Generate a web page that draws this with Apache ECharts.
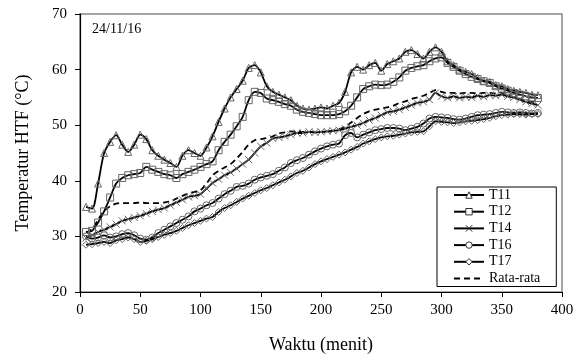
<!DOCTYPE html>
<html>
<head>
<meta charset="utf-8">
<script src="https://cdn.jsdelivr.net/npm/echarts@6/dist/echarts.min.js"></script>
<style>
  html, body { margin: 0; padding: 0; background: #fff; }
  #chart { width: 588px; height: 362px; }
</style>
</head>
<body>
<div id="chart"></div>
<script>
// waktu (menit), tiap 5 menit
var waktu = [];
for (var t = 5; t <= 380; t += 5) waktu.push(t);

var t11 = [35.3, 35.0, 39.5, 45, 47, 48.2, 46.5, 45.2, 46.5, 48.3, 47.5, 45.5, 44.5, 43.8, 43.2, 42.5, 44.5, 45.5, 45, 44.5,
  46, 48, 50.6, 53, 55, 56.5, 58, 60.3, 60.8, 59.5, 57, 56, 55.5, 55, 54.5, 53.5, 53, 52.8, 53, 53.2,
  53, 53.5, 54, 56, 59.5, 60.5, 60, 60.8, 61.2, 59.8, 61, 61.5, 62, 63.2, 63.5, 62.8, 62, 63.2, 64, 63.2,
  61.5, 60.8, 60, 59.6, 59.2, 58.5, 58, 57.8, 57.2, 57, 56.5, 56.2, 56, 55.8, 55.5, 55.4];
var t12 = [30.8, 31, 32.5, 34.5, 37, 39.5, 40.5, 41, 41.2, 41.4, 42.5, 42, 41.6, 41.2, 41, 40.5, 41.2, 41.6, 42, 42.5,
  43, 43.5, 45.5, 47, 48.3, 49.8, 51.5, 54.5, 56, 55.8, 54.8, 54.5, 54.2, 53.8, 53.5, 52.8, 52.4, 52.2, 52, 51.8,
  51.8, 51.8, 52, 52.5, 53.5, 55, 56.5, 57, 57.3, 57.2, 57.3, 57.8, 58.6, 59.8, 60.3, 60.6, 60.8, 61.5, 62, 62.2,
  61.2, 60.5, 59.8, 59.2, 58.7, 58.3, 57.9, 57.6, 57, 56.6, 56.2, 55.8, 55.5, 55.2, 55, 54.9];
var t14 = [29.7, 30.2, 30.8, 31.2, 31.7, 32.2, 32.8, 33.1, 33.4, 33.7, 34.1, 34.5, 34.8, 35.1, 35.6, 36.1, 36.6, 37.1, 37.3, 37.6,
  38.6, 39.6, 40.3, 41, 41.5, 42.2, 43, 43.8, 45, 46.2, 46.8, 47.6, 47.8, 48, 48.3, 48.6, 48.6, 48.8, 48.7, 48.8,
  48.9, 49, 49.1, 49.4, 49.7, 50, 50.4, 50.9, 51.3, 51.8, 52.3, 52.5, 52.8, 53.2, 53.6, 54, 54.2, 54.6, 55.8, 55.2,
  54.9, 55.2, 54.9, 55.1, 55, 55.3, 55.1, 55.4, 55.3, 55.5, 55.2, 55, 54.6, 54.2, 53.9, 53.6];
var t16 = [30, 29.6, 29.8, 30.2, 29.8, 30, 30.4, 30.6, 30.2, 29.6, 29.4, 29.8, 30.6, 31.2, 31.8, 32.4, 33, 33.6, 34.5, 35,
  35.6, 36, 36.8, 37.6, 38.2, 38.9, 39.1, 39.5, 40.2, 40.6, 40.9, 41.2, 41.8, 42.4, 43.2, 43.7, 44.1, 44.7, 45.3, 45.8,
  46.2, 46.5, 46.7, 48.2, 48.6, 47.8, 48.3, 48.7, 49.1, 49.3, 49.5, 49.5, 49.4, 49.1, 49.4, 49.7, 50.3, 51.2, 51.5, 51.4,
  51.3, 51.1, 51, 51.2, 51.5, 51.8, 51.9, 52, 52.2, 52.4, 52.3, 52.2, 52.3, 52.2, 52.1, 52.2];
var t17 = [28.5, 28.6, 28.8, 29, 28.8, 29.3, 29.5, 29.8, 29.5, 29, 29.2, 29.5, 29.9, 30.3, 30.6, 31, 31.5, 32, 32.4, 32.8,
  33.2, 33.5, 34.4, 35.1, 35.6, 36.2, 36.8, 37.3, 37.8, 38.3, 38.7, 39.2, 39.7, 40.2, 40.8, 41.4, 41.8, 42.4, 43, 43.5,
  43.9, 44.3, 44.7, 45.1, 45.6, 46.1, 46.7, 47.1, 47.5, 47.8, 48, 48.1, 48.3, 48.5, 48.7, 48.8, 48.9, 49.8, 50.7, 50.6,
  50.5, 50.4, 50.5, 50.7, 50.8, 50.9, 51.1, 51.3, 51.6, 51.8, 51.9, 52, 52, 51.9, 52, 52];
var rataRata = [30.7, 31.3, 33, 34.6, 35.4, 35.9, 36, 36, 36, 36.1, 36, 36, 36, 36.1, 36.3, 36.8, 37.3, 37.7, 38, 38.3,
  39.5, 41, 41.8, 42.4, 43, 44, 45.2, 46.5, 47.3, 47.5, 47.7, 48, 48.5, 48.7, 48.9, 48.8, 48.8, 48.8, 48.7, 48.8,
  48.8, 49, 49.3, 49.7, 50.5, 51.3, 52, 52.5, 52.8, 53, 53.2, 53.5, 54, 54.3, 54.7, 55, 55.3, 55.8, 56.3, 56,
  55.8, 55.8, 55.7, 55.8, 55.8, 55.7, 55.8, 55.8, 55.7, 55.8, 55.4, 55, 54.7, 54.4, 54.2, 54];

function pairs(arr) {
    return arr.map(function (v, i) { return [waktu[i], v]; });
}

var serif = 'Liberation Serif';
var markerGray = '#666';

function seri(nama, data, simbol) {
    return {
        name: nama,
        type: 'line',
        data: pairs(data),
        smooth: 0.3,
        symbol: simbol,
        symbolSize: 7,
        showSymbol: true,
        itemStyle: {color: 'rgba(255,255,255,0)', borderColor: markerGray, borderWidth: 1},
        lineStyle: {color: '#000', width: 1.8},
        emphasis: {disabled: true}
    };
}

// legend markers: hollow, dark outline
var legendMarker = {color: '#fff', borderColor: '#333', borderWidth: 1};

var myChart = echarts.init(document.getElementById('chart'));

var option = {
    animation: false,
    backgroundColor: '#fff',
    grid: {
        left: 80, right: 26, top: 14, bottom: 70,
        show: true, borderColor: '#888', borderWidth: 1.5
    },
    graphic: [{
        type: 'text', left: 92, top: 22,
        style: {text: '24/11/16', font: '14px "Liberation Serif"', fill: '#000'}
    }],
    legend: {
        orient: 'vertical',
        left: 437, top: 187,
        padding: [0, 16, 0, 16],
        itemWidth: 30, itemHeight: 8,
        itemGap: 0.7,
        backgroundColor: '#fff',
        borderColor: '#000', borderWidth: 1,
        textStyle: {fontFamily: serif, fontSize: 14, color: '#000', lineHeight: 16},
        data: [
            {name: 'T11', itemStyle: legendMarker},
            {name: 'T12', itemStyle: legendMarker},
            {name: 'T14', itemStyle: legendMarker},
            {name: 'T16', itemStyle: legendMarker},
            {name: 'T17', itemStyle: legendMarker},
            {name: 'Rata-rata', itemStyle: {color: 'rgba(0,0,0,0)', borderWidth: 0, opacity: 0}}
        ]
    },
    xAxis: {
        type: 'value', min: 0, max: 400, interval: 50,
        name: 'Waktu (menit)', nameLocation: 'middle', nameGap: 44,
        nameTextStyle: {fontFamily: serif, fontSize: 18, color: '#000'},
        axisLine: {lineStyle: {color: '#000', width: 1.2}},
        axisTick: {length: 5, lineStyle: {color: '#000'}},
        axisLabel: {fontFamily: serif, fontSize: 15, color: '#000', margin: 11},
        splitLine: {show: false}
    },
    yAxis: {
        type: 'value', min: 20, max: 70, interval: 10,
        name: 'Temperatur HTF (°C)', nameLocation: 'middle', nameGap: 48,
        nameTextStyle: {fontFamily: serif, fontSize: 18, color: '#000'},
        axisLine: {show: true, lineStyle: {color: '#000', width: 1.2}},
        axisTick: {show: true, length: 5, lineStyle: {color: '#000'}},
        axisLabel: {fontFamily: serif, fontSize: 15, color: '#000', margin: 13},
        splitLine: {show: false}
    },
    series: [
        seri('T11', t11, 'triangle'),
        seri('T12', t12, 'rect'),
        seri('T14', t14, 'path://M0,0L10,10M10,0L0,10'),
        seri('T16', t16, 'circle'),
        seri('T17', t17, 'diamond'),
        {
            name: 'Rata-rata',
            type: 'line',
            data: pairs(rataRata),
            smooth: 0.3,
            symbol: 'circle',
            symbolSize: 0,
            showSymbol: false,
            itemStyle: {color: '#000'},
            lineStyle: {color: '#000', width: 1.8, type: [6, 4]},
            emphasis: {disabled: true}
        }
    ]
};
myChart.setOption(option);
</script>
</body>
</html>
